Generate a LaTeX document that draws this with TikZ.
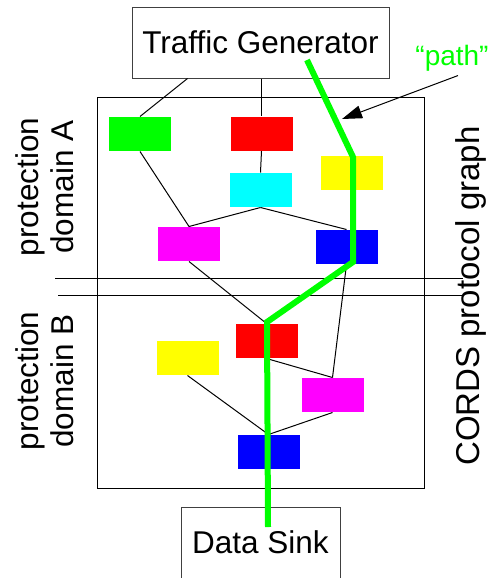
\documentclass[tikz,border=0pt]{standalone}
\usepackage{fontspec}
\setmainfont{Liberation Sans}
\usetikzlibrary{arrows.meta,calc}

\definecolor{pgreen}{RGB}{0,255,0}
\definecolor{pred}{RGB}{255,0,0}
\definecolor{pcyan}{RGB}{0,255,255}
\definecolor{pyellow}{RGB}{255,255,0}
\definecolor{pmagenta}{RGB}{255,0,255}
\definecolor{pblue}{RGB}{0,0,255}

\tikzset{
  layer/.style={minimum width=31pt, minimum height=17pt, inner sep=0pt},
  txt/.style={font=\fontsize{15.75}{17.5}\selectfont},
  endbox/.style={draw=black!75, txt, inner xsep=0pt}
}

\begin{document}
\begin{tikzpicture}[x=0.5pt, y=-0.5pt, line width=0.5pt, >={Triangle[length=10pt,width=6.5pt]}]
    \useasboundingbox (0,0) rectangle (493,578);

    \draw (97,97) rectangle (424,488);
    \draw (55,278) -- (463,278);
    \draw (58,295) -- (463,295);

    \node[endbox, minimum width=128.5pt, minimum height=35.5pt] (tg) at (260.5,42.5) {Traffic Generator};
    \node[endbox, anchor=north, minimum width=79.5pt, inner ysep=11.5pt,
          text height=11.5pt, text depth=22pt] (sink) at (260.5,507) {Data Sink};

    % protection domain A
    \node[layer, fill=pgreen]   (green)   at (140,134)   {};
    \node[layer, fill=pred]     (redA)    at (261.5,133.5) {};
    \node[layer, fill=pcyan]    (cyan)    at (260.5,190) {};
    \node[layer, fill=pyellow]  (yellowA) at (351.5,173) {};
    \node[layer, fill=pmagenta] (magA)    at (189,244)   {};
    \node[layer, fill=pblue]    (blueA)   at (346.5,247) {};

    % protection domain B
    \node[layer, fill=pred]     (redB)    at (266.5,341) {};
    \node[layer, fill=pyellow]  (yellowB) at (187.5,358) {};
    \node[layer, fill=pmagenta] (magB)    at (332.5,395) {};
    \node[layer, fill=pblue]    (blueB)   at (268.5,452) {};

    \draw ($(tg.south)+(-73,0)$) -- (green.north);
    \draw (redA.north |- tg.south) -- (redA.north);
    \draw (redA.south) -- (cyan.north);
    \draw (green.south) -- (magA.north);
    \draw (cyan.south) -- (magA.north);
    \draw (cyan.south) -- (blueA.north);
    \draw (magA.south) -- (redB.north);
    \draw (blueA.south) -- (magB.north);
    \draw (redB.south) -- (magB.north);
    \draw (yellowB.south) -- (blueB.north);
    \draw (magB.south) -- (blueB.north);

    \node[txt, rotate=90, align=center] (domA) at (45,187) {protection\\domain A};
    \node[txt, rotate=90, align=center] (domB) at (45,381) {protection\\domain B};
    \node[font=\fontsize{16.5}{18}\selectfont, rotate=90] (cords) at (471,296) {CORDS protocol graph};

    \node[font=\fontsize{14}{16}\selectfont, text=pgreen, inner sep=1pt] (pathlbl) at (452,58) {“path”};
    \coordinate (pathtip) at (342,119);
    \draw[->] ($(pathlbl.south)+(6,2)$) -- (pathtip);

    \coordinate (p1) at (307,60);
    \coordinate (p2) at (353,157);
    \coordinate (p3) at (353,262);
    \coordinate (p4) at (267,322);
    \coordinate (p5) at (268,527);
    \draw[pgreen, line width=3pt] (p1) -- (p2) -- (p3) -- (p4) -- (p5);
\end{tikzpicture}
\end{document}
